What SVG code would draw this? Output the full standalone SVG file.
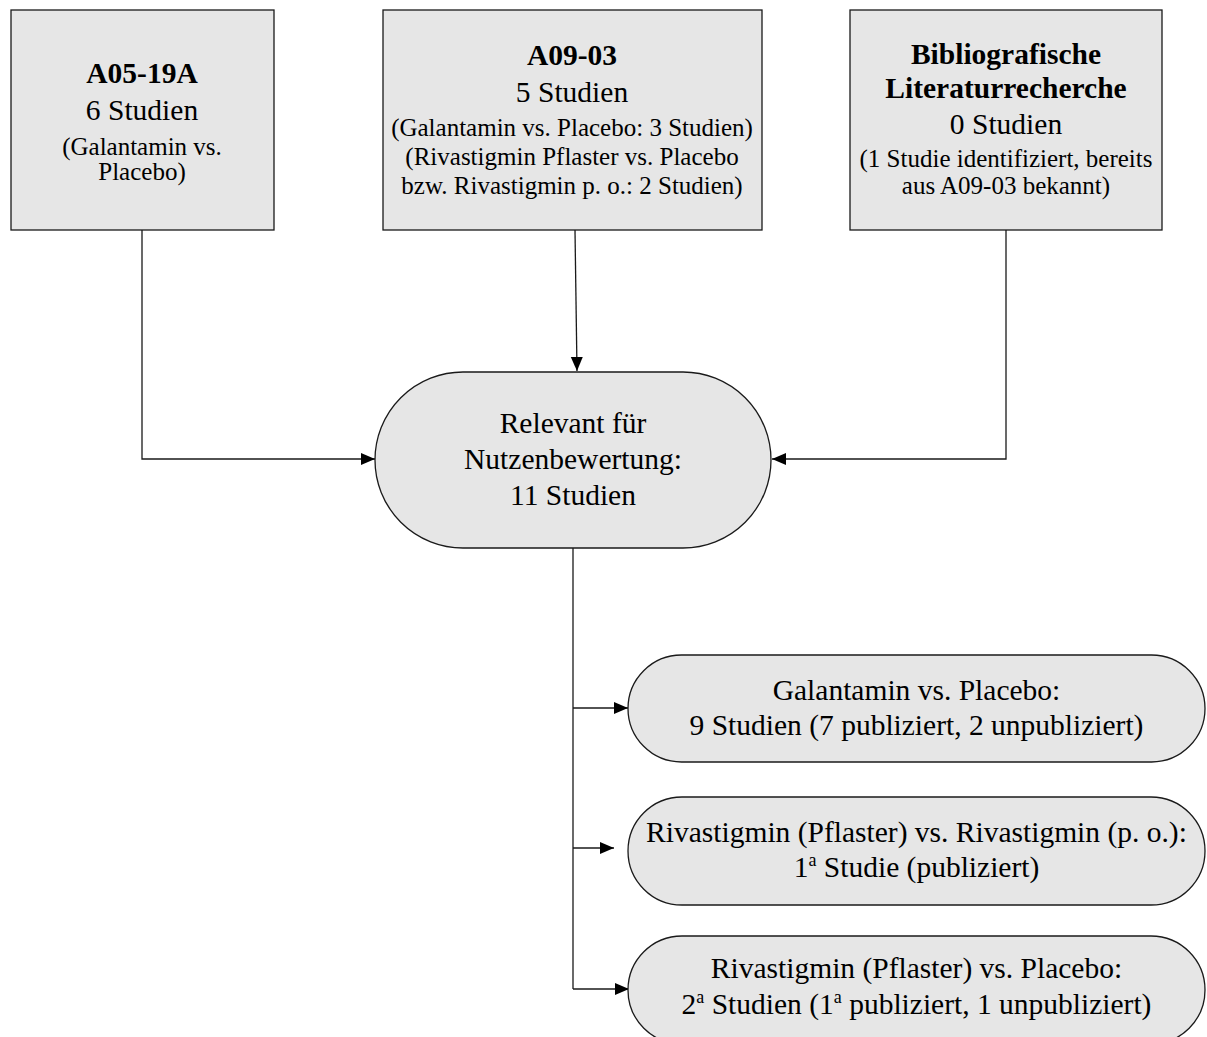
<svg xmlns="http://www.w3.org/2000/svg" width="1207" height="1037" viewBox="0 0 1207 1037">
<style>
.box{fill:#e6e6e6;stroke:#1a1a1a;stroke-width:1.3}
.t{font-family:"Liberation Serif","Times New Roman",serif;fill:#000;text-anchor:middle}
.b{font-weight:bold;font-size:29.5px}
.m{font-size:29.5px}
.s{font-size:25px}
.p{font-size:29.5px}
.c{fill:none;stroke:#1a1a1a;stroke-width:1.3}
</style>
<defs>
<marker id="ah" markerUnits="userSpaceOnUse" markerWidth="14" markerHeight="14" viewBox="0 0 14 14" refX="14" refY="7" orient="auto">
<path d="M0,1 L14,7 L0,13 Z" fill="#000"/>
</marker>
</defs>
<rect width="1207" height="1037" fill="#fff"/>
<g id="connectors">
<polyline class="c" points="142,230 142,459 375,459" marker-end="url(#ah)"/>
<line class="c" x1="575" y1="230" x2="577" y2="371" marker-end="url(#ah)"/>
<polyline class="c" points="1006,230 1006,459 772,459" marker-end="url(#ah)"/>
<line class="c" x1="573" y1="548" x2="573" y2="989"/>
<line class="c" x1="573" y1="708" x2="628" y2="708" marker-end="url(#ah)"/>
<line class="c" x1="573" y1="848" x2="614" y2="848" marker-end="url(#ah)"/>
<line class="c" x1="573" y1="989" x2="629" y2="989" marker-end="url(#ah)"/>
</g>
<g id="a05">
<rect class="box" x="11" y="10" width="263" height="220"/>
<text class="t b" x="142" y="83">A05-19A</text>
<text class="t m" x="142" y="120">6 Studien</text>
<text class="t s" x="142" y="155">(Galantamin vs.</text>
<text class="t s" x="142" y="180">Placebo)</text>
</g>
<g id="a09">
<rect class="box" x="383" y="10" width="379" height="220"/>
<text class="t b" x="572" y="65">A09-03</text>
<text class="t m" x="572" y="102">5 Studien</text>
<text class="t s" x="572" y="136">(Galantamin vs. Placebo: 3 Studien)</text>
<text class="t s" x="572" y="165">(Rivastigmin Pflaster vs. Placebo</text>
<text class="t s" x="572" y="194">bzw. Rivastigmin p. o.: 2 Studien)</text>
</g>
<g id="biblio">
<rect class="box" x="850" y="10" width="312" height="220"/>
<text class="t b" x="1006" y="64">Bibliografische</text>
<text class="t b" x="1006" y="98">Literaturrecherche</text>
<text class="t m" x="1006" y="134">0 Studien</text>
<text class="t s" x="1006" y="167">(1 Studie identifiziert, bereits</text>
<text class="t s" x="1006" y="194">aus A09-03 bekannt)</text>
</g>
<g id="relevant">
<rect class="box" x="375" y="372" width="396" height="176" rx="88" ry="88"/>
<text class="t p" x="573" y="433">Relevant für</text>
<text class="t p" x="573" y="469">Nutzenbewertung:</text>
<text class="t p" x="573" y="505">11 Studien</text>
</g>
<g id="galantamin">
<rect class="box" x="628" y="655" width="577" height="107" rx="53.5" ry="53.5"/>
<text class="t p" x="916.5" y="700">Galantamin vs. Placebo:</text>
<text class="t p" x="916.5" y="735">9 Studien (7 publiziert, 2 unpubliziert)</text>
</g>
<g id="riva-po">
<rect class="box" x="628" y="797" width="577" height="108" rx="54" ry="54"/>
<text class="t p" x="916.5" y="842">Rivastigmin (Pflaster) vs. Rivastigmin (p. o.):</text>
<text class="t p" x="916.5" y="877">1<tspan font-size="18" dy="-11">a</tspan><tspan dy="11"> Studie (publiziert)</tspan></text>
</g>
<g id="riva-placebo">
<rect class="box" x="628" y="936" width="577" height="108" rx="54" ry="54"/>
<text class="t p" x="916.5" y="978">Rivastigmin (Pflaster) vs. Placebo:</text>
<text class="t p" x="916.5" y="1014">2<tspan font-size="18" dy="-11">a</tspan><tspan dy="11"> Studien (1</tspan><tspan font-size="18" dy="-11">a</tspan><tspan dy="11"> publiziert, 1 unpubliziert)</tspan></text>
</g>
</svg>
